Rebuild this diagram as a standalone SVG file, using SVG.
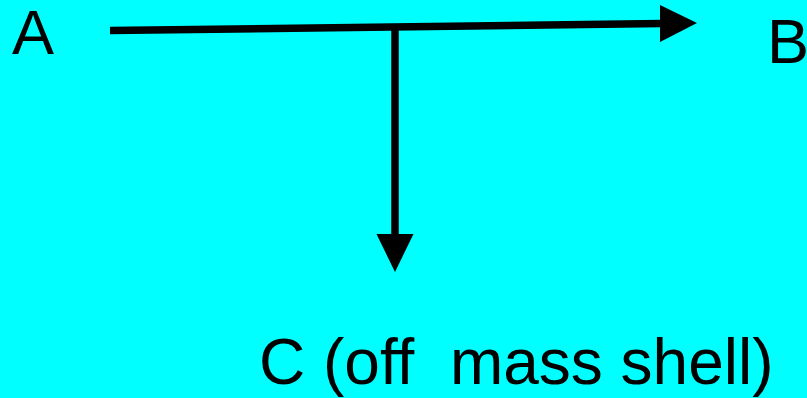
<svg xmlns="http://www.w3.org/2000/svg" width="807" height="398" viewBox="0 0 807 398">
  <style>
    .lbl { font-family: "Liberation Sans", Arial, sans-serif; font-size: 63px; fill: #000; white-space: pre; }
    .ln { stroke: #000; stroke-width: 7.5; fill: none; }
    .hd { fill: #000; stroke: none; }
  </style>
  <rect x="0" y="0" width="807" height="398" fill="#00FFFF"/>
  <g id="connectors">
    <line class="ln" x1="110" y1="30.5" x2="662" y2="23.5"/>
    <polygon class="hd" points="660,5 697,23 660,42"/>
    <line class="ln" x1="395" y1="27" x2="395" y2="236"/>
    <polygon class="hd" points="376.5,234 413.5,234 395,272"/>
  </g>
  <g id="nodeA">
    <text class="lbl" x="12" y="54">A</text>
  </g>
  <g id="nodeB">
    <text class="lbl" x="767" y="63">B</text>
  </g>
  <g id="nodeC">
    <text class="lbl" x="259" y="384" style="font-size:64px" xml:space="preserve">C (off  mass shell)</text>
  </g>
</svg>
